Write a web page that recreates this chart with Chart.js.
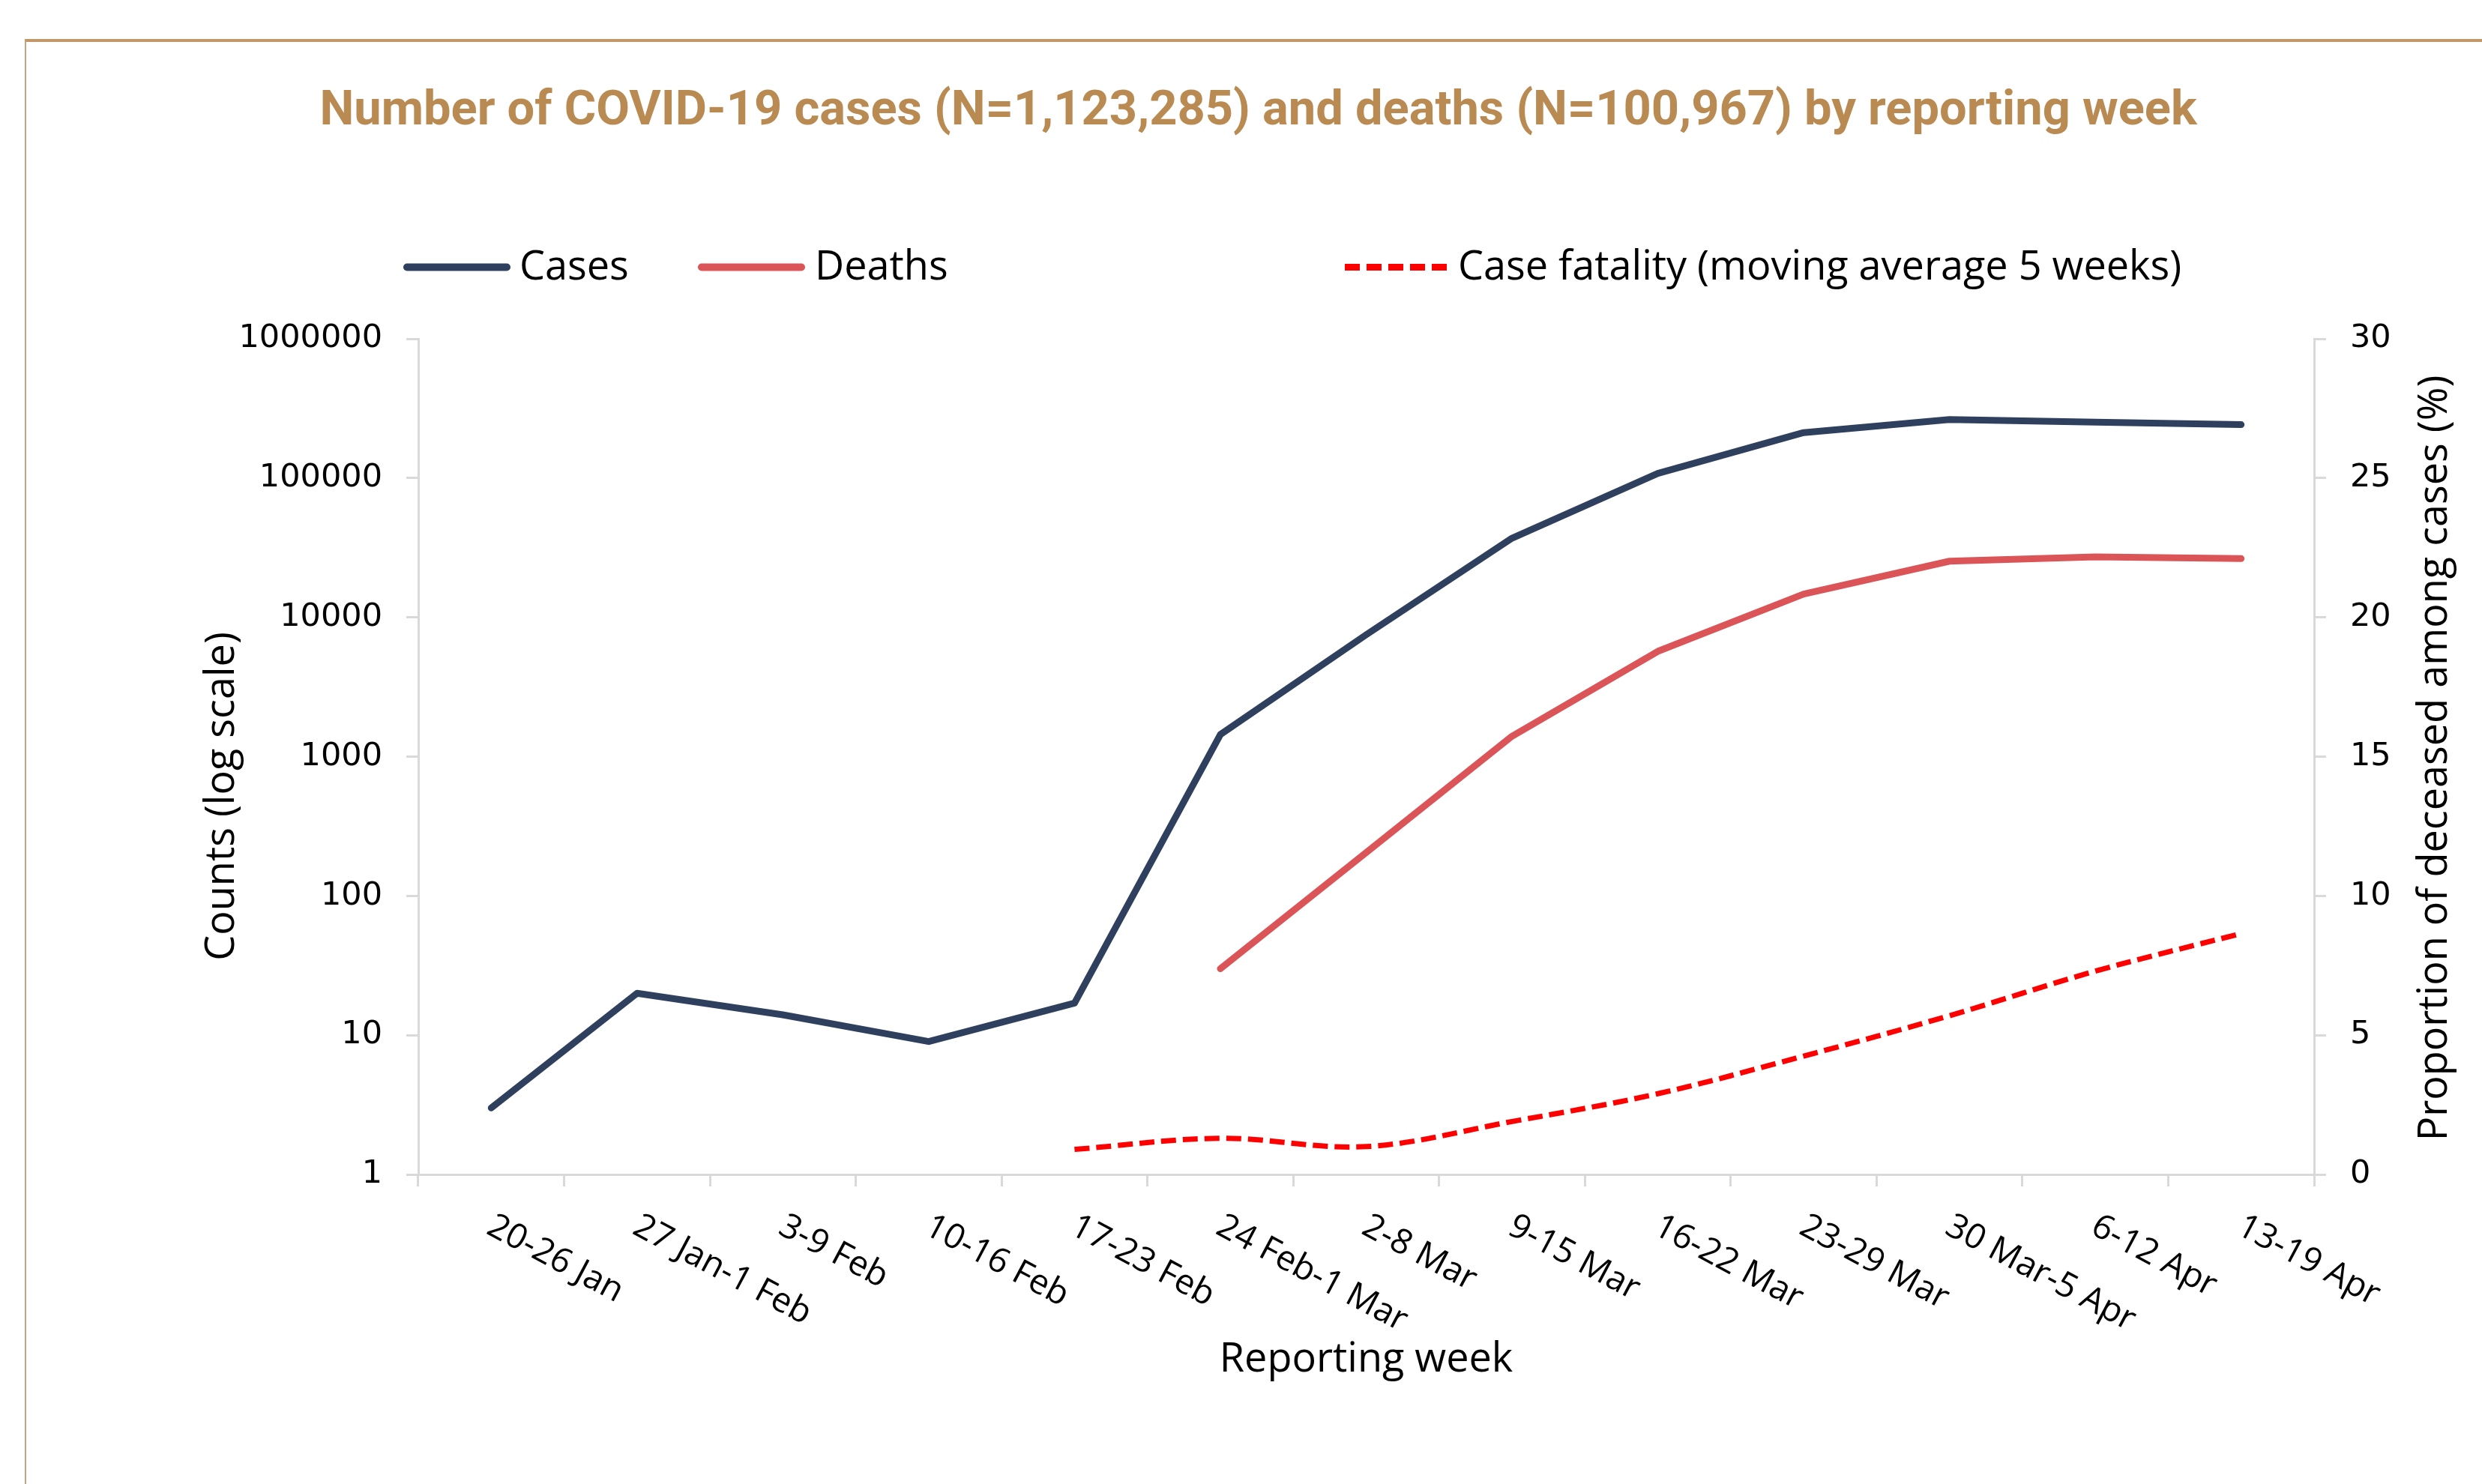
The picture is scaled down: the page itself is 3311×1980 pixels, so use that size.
<!DOCTYPE html>
<html>
<head>
<meta charset="utf-8">
<script src="https://cdn.jsdelivr.net/npm/chart.js@4/dist/chart.umd.min.js"></script>
<style>
html,body{margin:0;padding:0;background:#ffffff;}
#wrap{position:relative;width:3311px;height:1980px;overflow:hidden;background:#ffffff;}
#frame{position:absolute;left:33px;top:52px;width:4000px;height:3000px;border-top:4px solid #C39769;border-left:2px solid #C9A47E;}
#c{position:absolute;left:0;top:0;}
</style>
</head>
<body>
<div id="wrap"><div id="frame"></div><canvas id="c" width="3311" height="1980"></canvas></div>
<script>
// ---- data ----
const weeks = ['20-26 Jan','27 Jan-1 Feb','3-9 Feb','10-16 Feb','17-23 Feb','24 Feb-1 Mar','2-8 Mar','9-15 Mar','16-22 Mar','23-29 Mar','30 Mar-5 Apr','6-12 Apr','13-19 Apr'];
const cases = [3, 20, 14, 9, 17, 1440, 7500, 37000, 108000, 212000, 263000, 252000, 242000];
const deaths = [null, null, null, null, null, 30, 205, 1400, 5700, 14700, 25300, 27200, 26400];
const caseFatality = [null, null, null, null, 0.9, 1.3, 1.0, 1.9, 2.9, 4.25, 5.7, 7.3, 8.65];
const countTicks = [1, 10, 100, 1000, 10000, 100000, 1000000];
const countTickLabels = ['1', '10', '100', '1000', '10000', '100000', '1000000'];
const pctTicks = [0, 5, 10, 15, 20, 25, 30];
const pctTickLabels = ['0', '5', '10', '15', '20', '25', '30'];

const titleText = 'Number of COVID-19 cases (N=1,123,285) and deaths (N=100,967) by reporting week';
const seriesNames = ['Cases', 'Deaths', 'Case fatality (moving average 5 weeks)'];
const xTitle = 'Reporting week';
const yTitle = 'Counts (log scale)';
const y1Title = 'Proportion of deceased among cases (%)';

// ---- styles ----
const casesColor = '#2F405F';
const deathsColor = '#DB5457';
const cfrColor = '#FF0000';
const axisColor = '#D9D9D9';
const textFont = 'Open Sans';
const numFont = 'DejaVu Sans';

const legendStyle = [
  {color: casesColor, x1: 543, x2: 676, tx: 693, width: 10, dash: [], cap: 'round'},
  {color: deathsColor, x1: 936, x2: 1069, tx: 1087, width: 10, dash: [], cap: 'round'},
  {color: cfrColor, x1: 1794, x2: 1930, tx: 1945, width: 9, dash: [20, 9], cap: 'butt'}
];

const extras = {
  id: 'extras',
  afterDraw(chart) {
    const ctx = chart.ctx;
    const ca = chart.chartArea;
    ctx.save();
    // legend
    const ly = 356.5, lBase = 373;
    seriesNames.forEach((name, i) => {
      const st = legendStyle[i];
      ctx.beginPath();
      ctx.strokeStyle = st.color;
      ctx.lineWidth = st.width;
      ctx.lineCap = st.cap;
      ctx.setLineDash(st.dash);
      ctx.moveTo(st.x1, ly);
      ctx.lineTo(st.x2, ly);
      ctx.stroke();
      ctx.setLineDash([]);
      ctx.fillStyle = '#000000';
      ctx.font = '54px "' + textFont + '"';
      ctx.textAlign = 'left';
      ctx.textBaseline = 'alphabetic';
      ctx.fillText(name, st.tx, lBase);
    });
    // axis titles (reading bottom to top on both sides)
    const mid = (ca.top + ca.bottom) / 2;
    ctx.font = '54px "' + textFont + '"';
    ctx.fillStyle = '#000000';
    ctx.textAlign = 'center';
    ctx.textBaseline = 'alphabetic';
    ctx.save();
    ctx.translate(chart.scales.y.left + 266, mid + 53);
    ctx.rotate(-Math.PI / 2);
    ctx.fillText(yTitle, 0, 0);
    ctx.restore();
    ctx.save();
    ctx.translate(chart.scales.y1.right - 47, mid + 2);
    ctx.rotate(-Math.PI / 2);
    ctx.fillText(y1Title, 0, 0);
    ctx.restore();
    ctx.restore();
  }
};

new Chart(document.getElementById('c'), {
  type: 'line',
  data: {
    labels: weeks,
    datasets: [
      {label: seriesNames[0], data: cases, yAxisID: 'y', borderColor: casesColor, backgroundColor: casesColor,
       borderWidth: 9, pointRadius: 0, tension: 0, borderJoinStyle: 'round', borderCapStyle: 'round'},
      {label: seriesNames[1], data: deaths, yAxisID: 'y', borderColor: deathsColor, backgroundColor: deathsColor,
       borderWidth: 9, pointRadius: 0, tension: 0, borderJoinStyle: 'round', borderCapStyle: 'round'},
      {label: seriesNames[2], data: caseFatality, yAxisID: 'y1', borderColor: cfrColor, backgroundColor: cfrColor,
       borderWidth: 7, pointRadius: 0, tension: 0.35, borderDash: [20, 9], borderCapStyle: 'butt'}
    ]
  },
  options: {
    responsive: false,
    animation: false,
    devicePixelRatio: 1,
    layout: {padding: {left: 46, top: 0, right: 0, bottom: 0}},
    plugins: {
      legend: {display: false},
      tooltip: {enabled: false},
      title: {display: true, text: titleText, color: '#B98A52',
              font: {family: 'Roboto', weight: 'bold', size: 65, lineHeight: 1.2},
              padding: {top: 111, bottom: 263}}
    },
    scales: {
      x: {
        type: 'category',
        offset: true,
        grid: {offset: true, drawOnChartArea: false, drawTicks: true, tickLength: 16, color: axisColor, lineWidth: 3},
        border: {color: axisColor, width: 3},
        ticks: {autoSkip: false, minRotation: 28, maxRotation: 28, padding: 26, labelOffset: -2,
                color: '#000000', font: {family: textFont, size: 46}},
        title: {display: true, text: xTitle, color: '#000000', font: {family: textFont, size: 54}, padding: {top: 0, bottom: 133}},
        afterFit: (s) => {
          s.height = 413;
          s.labelRotation = -28;
          s._getXAxisLabelAlignment = () => 'left';
        }
      },
      y: {
        type: 'logarithmic',
        position: 'left',
        min: 1, max: 1000000,
        afterBuildTicks: (s) => { s.ticks = countTicks.map(v => ({value: v})); },
        ticks: {autoSkip: false, padding: 32, color: '#000000', font: {family: numFont, size: 43},
                callback: (v) => { const i = countTicks.indexOf(v); return i >= 0 ? countTickLabels[i] : ''; }},
        grid: {drawOnChartArea: false, tickLength: 16, color: axisColor, lineWidth: 3},
        border: {color: axisColor, width: 3},
        afterFit: (s) => { s.width = 512; }
      },
      y1: {
        type: 'linear',
        position: 'right',
        min: 0, max: 30,
        afterBuildTicks: (s) => { s.ticks = pctTicks.map(v => ({value: v})); },
        ticks: {autoSkip: false, padding: 32, color: '#000000', font: {family: numFont, size: 43},
                callback: (v) => { const i = pctTicks.indexOf(v); return i >= 0 ? pctTickLabels[i] : ''; }},
        grid: {drawOnChartArea: false, tickLength: 16, color: axisColor, lineWidth: 3},
        border: {color: axisColor, width: 3},
        afterFit: (s) => { s.width = 224; }
      }
    }
  },
  plugins: [extras]
});
</script>
</body>
</html>
